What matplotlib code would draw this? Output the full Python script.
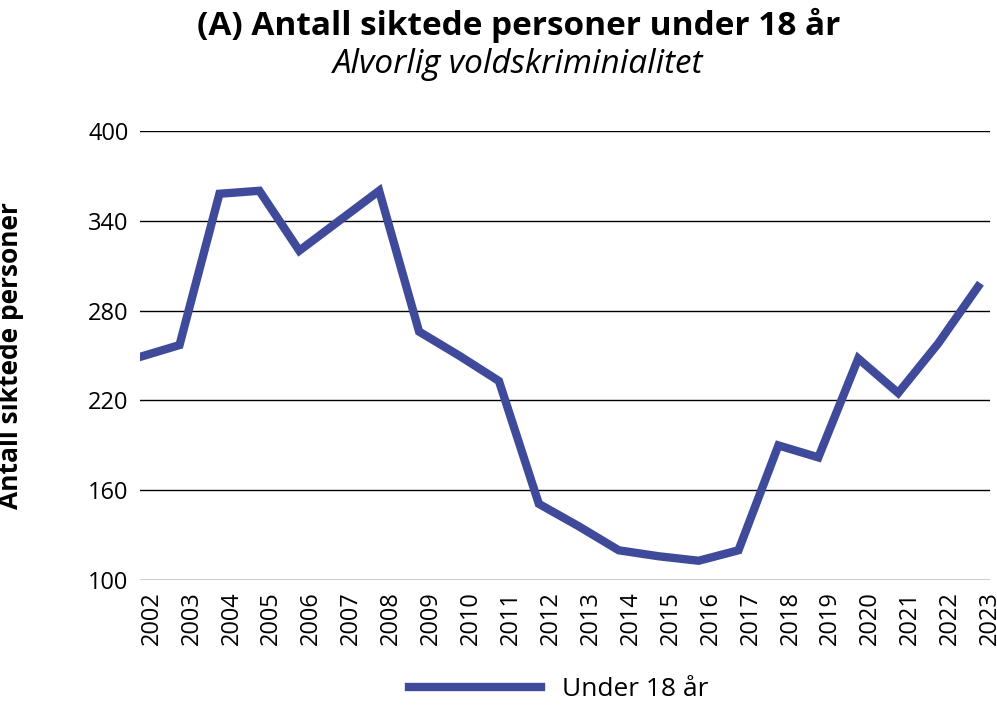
import matplotlib
matplotlib.use("Agg")
import matplotlib.pyplot as plt

plt.rcParams["font.family"] = "Open Sans"

YEARS = [str(y) for y in range(2002, 2024)]
UNDER_18 = [249, 257, 358, 360, 320, 340, 360, 266, 250, 233, 151, 136,
            120, 116, 113, 120, 190, 182, 248, 225, 258, 296]
Y_TICKS = [100, 160, 220, 280, 340, 400]
COLOR = "#3f4a9a"

fig = plt.figure(figsize=(9.97, 7.19), dpi=100)
ax = fig.add_axes([0.14, 0.193, 0.853, 0.625])

x = list(range(len(YEARS)))
ax.plot(x, UNDER_18, color=COLOR, linewidth=6, solid_joinstyle="miter",
        label="Under 18 år")
ax.set_xlim(0, len(YEARS) - 0.95)
ax.set_ylim(100, 400)
ax.set_yticks(Y_TICKS)
ax.set_yticklabels([str(t) for t in Y_TICKS], fontsize=17)
ax.set_xticks([i + 0.3 for i in x])
ax.set_xticklabels(YEARS, rotation=90, fontsize=17)
ax.tick_params(length=0, pad=8)
ax.grid(axis="y", color="black", linewidth=1)
ax.set_axisbelow(True)
for s in ax.spines.values():
    s.set_visible(False)
ax.set_ylabel("Antall siktede personer", fontsize=19, fontweight="bold", labelpad=46)

fig.text(0.52, 0.965, "(A) Antall siktede personer under 18 år", ha="center",
         va="center", fontsize=24, fontweight="bold")
fig.text(0.52, 0.91, "Alvorlig voldskriminialitet", ha="center", va="center",
         fontsize=24, style="italic")

fig.legend(loc="lower center", bbox_to_anchor=(0.56, -0.01), frameon=False,
           fontsize=19, handlelength=5)

fig.savefig("out.png", dpi=100)
